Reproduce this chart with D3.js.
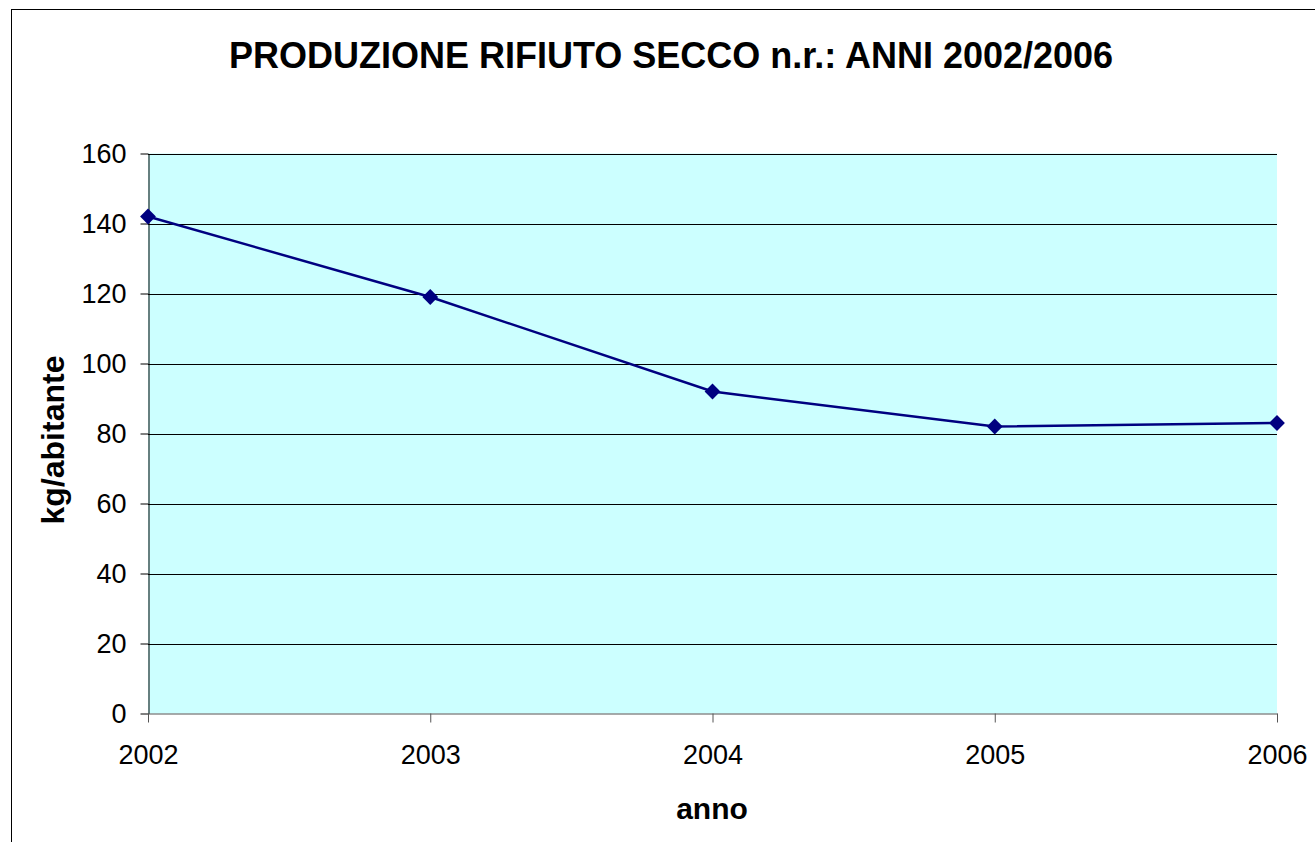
<!DOCTYPE html>
<html>
<head>
<meta charset="utf-8">
<script src="https://cdn.jsdelivr.net/npm/d3@7"></script>
<style>
  body { margin: 0; background: white; }
  svg { display: block; font-family: Arial, "Liberation Sans", sans-serif; }
</style>
</head>
<body>
<script>
// data
const years = ["2002", "2003", "2004", "2005", "2006"];
const kgPerInhabitant = [142, 119, 92, 82, 83];
const yTicks = [0, 20, 40, 60, 80, 100, 120, 140, 160];

function main(){
    const width = 1315;
    const height = 842;

    const svg = d3.select("body").append("svg")
        .attr("width", width)
        .attr("height", height);

    // outer chart border (runs off the right and bottom edge)
    svg.append("rect")
        .attr("x", 11.5)
        .attr("y", 9.5)
        .attr("width", width + 20)
        .attr("height", height + 20)
        .attr("fill", "white")
        .attr("stroke", "#000")
        .attr("stroke-width", 1);

    const plotLeft = 148, plotRight = 1277, plotTop = 153.5, plotBottom = 713.5;

    const xScale = d3.scalePoint().domain(years).range([plotLeft, plotRight]).padding(0);
    const yScale = d3.scaleLinear().domain([0, 160]).range([plotBottom, plotTop]);

    // plot background
    svg.append("rect")
        .attr("x", plotLeft)
        .attr("y", plotTop)
        .attr("width", plotRight - plotLeft)
        .attr("height", plotBottom - plotTop)
        .attr("fill", "#CCFFFF");

    // gridlines
    svg.append("g")
        .selectAll("line")
        .data(yTicks.filter(d => d > 0))
        .enter().append("line")
        .attr("x1", plotLeft)
        .attr("x2", plotRight)
        .attr("y1", d => Math.round(yScale(d)) + 0.5)
        .attr("y2", d => Math.round(yScale(d)) + 0.5)
        .attr("stroke", "#000")
        .attr("stroke-width", 1);

    // y axis
    const yAxis = svg.append("g")
        .attr("transform", "translate(" + (plotLeft + 0.5) + ",0)")
        .call(d3.axisLeft(yScale).tickValues(yTicks).tickSize(8).tickPadding(14).tickSizeOuter(0));
    yAxis.select(".domain").attr("stroke", "#000");
    yAxis.selectAll(".tick line").attr("stroke", "#000");
    yAxis.selectAll(".tick text")
        .attr("font-size", "27px")
        .attr("font-family", "Arial, 'Liberation Sans', sans-serif")
        .attr("fill", "#000")
        .attr("dy", "0.34em");

    // x axis
    const xAxis = svg.append("g")
        .attr("transform", "translate(0," + (plotBottom) + ")")
        .call(d3.axisBottom(xScale).tickSize(9).tickPadding(22).tickSizeOuter(0));
    xAxis.select(".domain").attr("stroke", "#555");
    xAxis.selectAll(".tick line").attr("stroke", "#555");
    xAxis.selectAll(".tick text")
        .attr("font-size", "27px")
        .attr("font-family", "Arial, 'Liberation Sans', sans-serif")
        .attr("fill", "#000");

    // title
    svg.append("text")
        .attr("x", 671)
        .attr("y", 68)
        .attr("text-anchor", "middle")
        .attr("font-size", "36px")
        .attr("font-weight", "bold")
        .text("PRODUZIONE RIFIUTO SECCO n.r.: ANNI 2002/2006");

    // axis titles
    svg.append("text")
        .attr("transform", "translate(64,440) rotate(-90)")
        .attr("text-anchor", "middle")
        .attr("font-size", "32px")
        .attr("font-weight", "bold")
        .text("kg/abitante");

    svg.append("text")
        .attr("x", 712)
        .attr("y", 819)
        .attr("text-anchor", "middle")
        .attr("font-size", "30px")
        .attr("font-weight", "bold")
        .text("anno");

    const points = years.map((y, i) => ({year: y, value: kgPerInhabitant[i]}));

    // the series line
    const line = d3.line()
        .x(d => xScale(d.year))
        .y(d => yScale(d.value));

    svg.append("path")
        .datum(points)
        .attr("fill", "none")
        .attr("stroke", "#000080")
        .attr("stroke-width", 2.5)
        .attr("d", line);

    // diamond markers
    svg.append("g")
        .selectAll("path")
        .data(points)
        .enter().append("path")
        .attr("d", d3.symbol().type(d3.symbolSquare).size(125))
        .attr("transform", d => "translate(" + xScale(d.year) + "," + yScale(d.value) + ") rotate(45)")
        .attr("fill", "#000080");
}
main();
</script>
</body>
</html>
